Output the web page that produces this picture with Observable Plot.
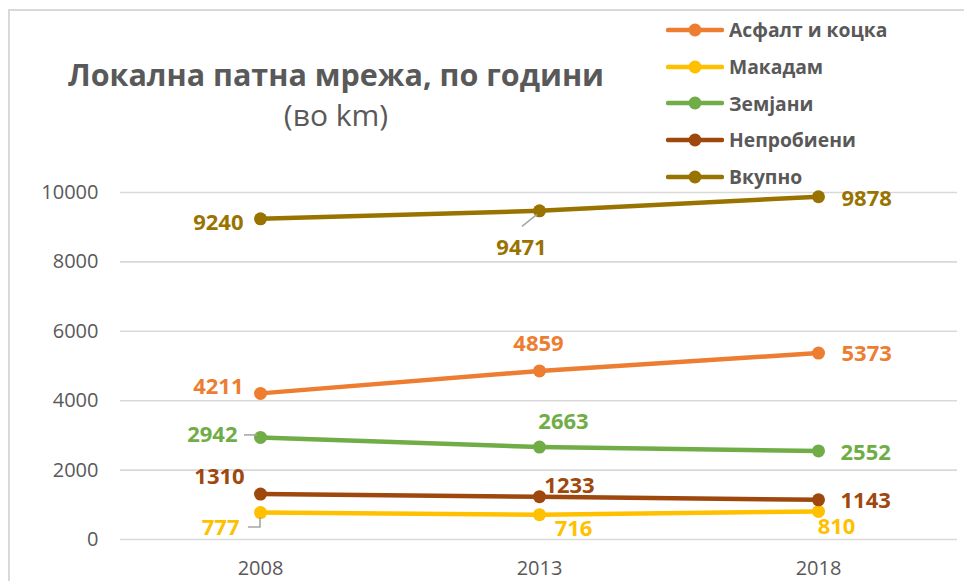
<!DOCTYPE html>
<html><head><meta charset="utf-8">
<script src="https://cdn.jsdelivr.net/npm/d3@7"></script>
<script src="https://cdn.jsdelivr.net/npm/@observablehq/plot@0.6"></script>
<style>
body{margin:0;background:#fff;}
#wrap{position:relative;width:964px;height:581px;overflow:hidden;font-family:"Open Sans",sans-serif;color:#595959;}
#frame{position:absolute;left:8px;top:9px;width:1000px;height:700px;border-left:2px solid #d9d9d9;border-top:2px solid #d9d9d9;pointer-events:none;}
#chart{position:absolute;left:0;top:0;}
#title{position:absolute;left:0;width:672px;top:53px;text-align:center;font-weight:700;font-size:30.5px;line-height:42px;white-space:nowrap;}
#subtitle{position:absolute;left:0;width:672px;top:95px;text-align:center;font-size:30px;line-height:40px;}
#legend{position:absolute;left:666px;top:11.5px;}
.lrow{display:flex;align-items:center;height:36.7px;font-weight:700;font-size:19.3px;white-space:nowrap;}
.lrow svg{margin-right:5px;}
</style></head>
<body><div id="wrap"><div id="chart"></div><div id="title"></div><div id="subtitle"></div><div id="legend"></div><div id="frame"></div></div>
<script>
const titleText = "Локална патна мрежа, по години";
const subtitleText = "(во km)";
const years = ["2008", "2013", "2018"];
const seriesNames = ["Асфалт и коцка", "Макадам", "Земјани", "Непробиени", "Вкупно"];
const asfalt = [4211, 4859, 5373];
const makadam = [777, 716, 810];
const zemjani = [2942, 2663, 2552];
const neprobieni = [1310, 1233, 1143];
const vkupno = [9240, 9471, 9878];
const yTicks = [0, 2000, 4000, 6000, 8000, 10000];
const colors = ["#ED7D31", "#FFC000", "#70AD47", "#9E480E", "#997300"];
// label placement (dx, dy, anchor) per series per year
const labelOffsets = [
  [[-17, -6, "end"], [-1, -27, "middle"], [23, 1, "start"]],
  [[-21, 15, "end"], [34, 14, "middle"], [18, 16, "middle"]],
  [[-23, -2, "end"], [24, -25, "middle"], [22, 2, "start"]],
  [[-41, -17, "middle"], [30, -11, "middle"], [22, 1, "start"]],
  [[-17, 4, "end"], [-18, 37, "middle"], [23, 2, "start"]]
];

const seriesValues = [asfalt, makadam, zemjani, neprobieni, vkupno];
const rows = [];
seriesValues.forEach((vals, si) => vals.forEach((v, yi) => rows.push({
  series: seriesNames[si], year: years[yi], value: v,
  dx: labelOffsets[si][yi][0], dy: labelOffsets[si][yi][1], anchor: labelOffsets[si][yi][2]
})));

document.getElementById("title").textContent = titleText;
document.getElementById("subtitle").textContent = subtitleText;

const legend = document.getElementById("legend");
seriesNames.forEach((name, i) => {
  const row = document.createElement("div");
  row.className = "lrow";
  row.innerHTML = `<svg width="58" height="16"><line x1="2" y1="8" x2="56" y2="8" stroke="${colors[i]}" stroke-width="4.5" stroke-linecap="round"/><circle cx="29" cy="8" r="6.5" fill="${colors[i]}"/></svg><span>${name}</span>`;
  legend.appendChild(row);
});

const colorScale = {domain: seriesNames, range: colors};
const labelMarks = ["start", "middle", "end"].map(a => Plot.text(rows.filter(d => d.anchor === a), {
  x: "year", y: "value", text: d => String(d.value), fill: "series",
  textAnchor: a, fontWeight: "bold", fontSize: 22,
  render(index, scales, values, dims, ctx, next) {
    const g = next(index, scales, values, dims, ctx);
    const data = rows.filter(d => d.anchor === a);
    d3.select(g).selectAll("text").each(function(_, k) {
      const d = data[index[k]];
      const t = this.getAttribute("transform") || "";
      this.setAttribute("transform", t + ` translate(${d.dx},${d.dy})`);
    });
    return g;
  }
}));

const plot = Plot.plot({
  width: 964, height: 581,
  marginTop: 192, marginBottom: 42, marginLeft: 120, marginRight: 7,
  style: {fontFamily: "Open Sans, sans-serif", background: "transparent", overflow: "visible"},
  x: {type: "point", domain: years, padding: 0.5, label: null},
  y: {domain: [0, 10000], label: null},
  color: colorScale,
  marks: [
    Plot.gridY(yTicks, {stroke: "#d9d9d9", strokeOpacity: 1, strokeWidth: 1.6}),
    Plot.axisY(yTicks, {tickSize: 0, tickPadding: 22, fontSize: 20, fill: "#595959", label: null, tickFormat: d => String(d)}),
    Plot.axisX({tickSize: 0, tickPadding: 21, fontSize: 20, fill: "#595959", label: null}),
    Plot.line(rows, {x: "year", y: "value", z: "series", stroke: "series", strokeWidth: 4.5}),
    Plot.dot(rows, {x: "year", y: "value", fill: "series", r: 6.5}),
    ...labelMarks
  ]
});
document.getElementById("chart").appendChild(plot);

// leader lines for displaced labels
const xs = plot.scale("x"), ys = plot.scale("y");
const svg = d3.select(plot);
const leaders = svg.append("g").attr("stroke", "#a6a6a6").attr("stroke-width", 1.6).attr("fill", "none");
const px = (yr) => xs.apply(yr);
const py = (v) => ys.apply(v);
leaders.append("path").attr("d", `M${px("2013") - 2},${py(vkupno[1]) + 4}L${px("2013") - 17},${py(vkupno[1]) + 16}`);
leaders.append("path").attr("d", `M${px("2008") - 16},${py(zemjani[0]) - 2}L${px("2008") - 3},${py(zemjani[0]) - 2}`);
leaders.append("path").attr("d", `M${px("2008") - 12},${py(makadam[0]) + 15}L${px("2008")},${py(makadam[0]) + 15}L${px("2008")},${py(makadam[0]) + 5}`);
</script>
</body></html>
